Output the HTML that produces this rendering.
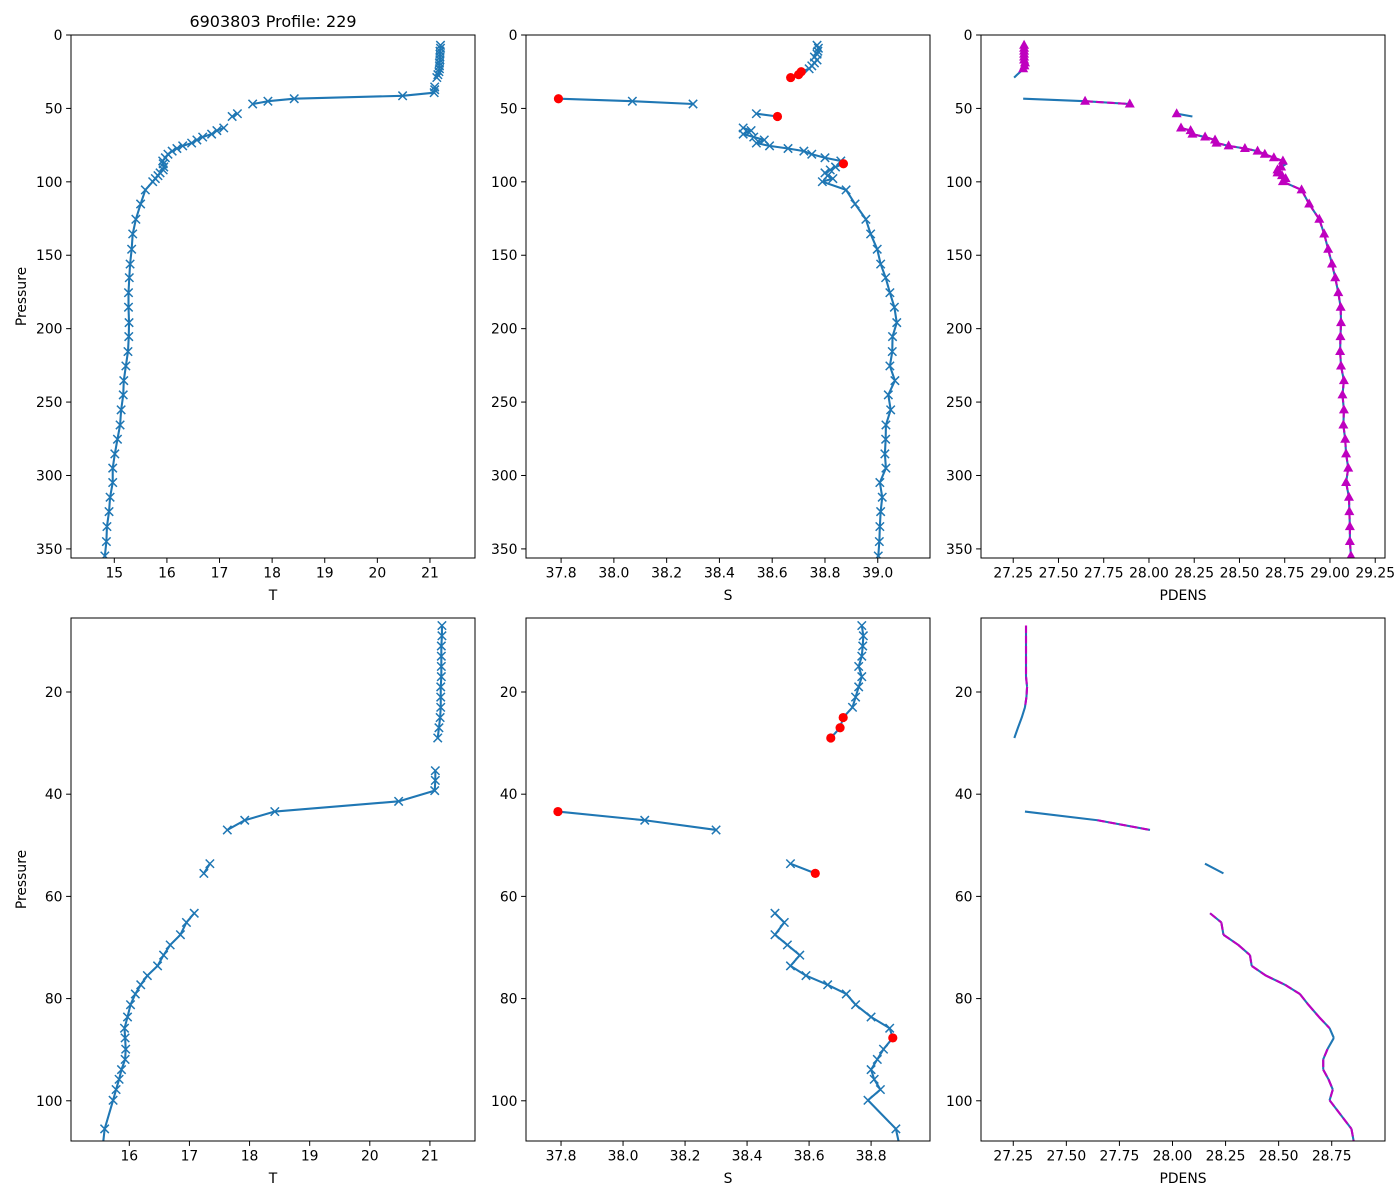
<!DOCTYPE html>
<html><head><meta charset="utf-8"><style>
html,body{margin:0;padding:0;background:#fff;width:1400px;height:1200px;overflow:hidden;}
svg{display:block;font-family:"DejaVu Sans","Liberation Sans",sans-serif;overflow:hidden;}
</style></head><body>
<svg id="fig" width="1400" height="1200" viewBox="0 0 1400 1200" xmlns="http://www.w3.org/2000/svg">
<rect x="0" y="0" width="1400" height="1200" fill="#fff"/>
<text x="273" y="27" font-size="16" text-anchor="middle">6903803 Profile: 229</text>
</svg>
<script>
// ---- data (null = gap) ----
const pressure = [7,9,11,13,15,17,19,21,23,25,27,29,null,35.4,37.3,39.3,41.4,43.4,45.1,47.0,null,53.6,55.5,null,63.3,65.1,67.5,69.5,71.5,73.6,75.5,77.3,79.1,81.2,83.6,85.8,87.7,89.9,91.9,93.9,95.8,97.8,99.9,105.5,115.1,125.5,135.5,145.9,156,165.3,175.5,185.4,195.9,205.4,215.6,225.4,235.4,245.1,255.3,265.6,275.3,285.3,295,304.8,314.8,324.6,334.8,345,354.8];
const temperature = [21.20,21.20,21.19,21.19,21.19,21.19,21.18,21.18,21.18,21.17,21.15,21.13,null,21.09,21.09,21.08,20.48,18.42,17.92,17.63,null,17.34,17.24,null,17.08,16.95,16.85,16.68,16.57,16.47,16.30,16.19,16.10,16.02,15.97,15.92,15.93,15.94,15.93,15.87,15.83,15.78,15.73,15.59,15.50,15.41,15.35,15.33,15.30,15.285,15.27,15.27,15.28,15.275,15.26,15.22,15.18,15.17,15.13,15.11,15.06,15.01,14.97,14.97,14.92,14.90,14.86,14.85,14.82];
const salinity = [38.77,38.775,38.773,38.77,38.76,38.77,38.76,38.75,38.74,38.71,38.70,38.67,null,null,null,null,null,37.79,38.07,38.30,null,38.54,38.62,null,38.49,38.52,38.49,38.53,38.57,38.54,38.59,38.66,38.72,38.75,38.80,38.86,38.87,38.84,38.82,38.80,38.81,38.83,38.79,38.88,38.914,38.955,38.973,38.998,39.011,39.030,39.046,39.063,39.072,39.056,39.055,39.046,39.065,39.040,39.049,39.031,39.030,39.027,39.031,39.008,39.017,39.011,39.008,39.006,39.002];
const pdens = [27.31,27.31,27.31,27.31,27.31,27.31,27.315,27.312,27.305,27.29,27.272,27.255,null,null,null,null,null,27.305,27.647,27.894,null,28.153,28.24,null,28.177,28.23,28.24,28.31,28.365,28.373,28.44,28.53,28.60,28.64,28.69,28.74,28.76,28.73,28.71,28.71,28.735,28.755,28.74,28.843,28.885,28.941,28.968,28.99,29.011,29.029,29.046,29.059,29.061,29.058,29.056,29.061,29.077,29.069,29.077,29.074,29.084,29.089,29.101,29.089,29.105,29.107,29.11,29.11,29.116];
const salinityFlag = [0,0,0,0,0,0,0,0,0,1,1,1,0,0,0,0,0,1,0,0,0,0,1,0,0,0,0,0,0,0,0,0,0,0,0,0,1,0,0,0,0,0,0,0,0,0,0,0,0,0,0,0,0,0,0,0,0,0,0,0,0,0,0,0,0,0,0,0,0];
const topPressureTicks = [0,50,100,150,200,250,300,350];
const bottomPressureTicks = [20,40,60,80,100];
const topTTicks = [15,16,17,18,19,20,21];
const bottomTTicks = [16,17,18,19,20,21];
const topSTicks = [37.8,38.0,38.2,38.4,38.6,38.8,39.0];
const bottomSTicks = [37.8,38.0,38.2,38.4,38.6,38.8];
const topDTicks = [27.25,27.5,27.75,28.0,28.25,28.5,28.75,29.0,29.25];
const bottomDTicks = [27.25,27.5,27.75,28.0,28.25,28.5,28.75];

const NS = "http://www.w3.org/2000/svg";
const svg = document.getElementById('fig');
const BLUE = '#1f77b4', MAG = '#bf00bf', RED = '#ff0000';
function mk(tag, attrs, parent) {
  const e = document.createElementNS(NS, tag);
  for (const k in attrs) e.setAttribute(k, attrs[k]);
  (parent || svg).appendChild(e);
  return e;
}
const panels = [
  {id:'t-top', x0:71,x1:475,y0:35,y1:558,xlim:[14.177,21.856],ylim:[0,356.2],xt:topTTicks,yt:topPressureTicks,xl:'T',var:'T',ylab:true,dec:0},
  {id:'s-top', x0:526,x1:930,y0:35,y1:558,xlim:[37.667,39.198],ylim:[0,356.2],xt:topSTicks,yt:topPressureTicks,xl:'S',var:'S',ylab:false,dec:1},
  {id:'pdens-top', x0:981,x1:1385,y0:35,y1:558,xlim:[27.072,29.304],ylim:[0,356.2],xt:topDTicks,yt:topPressureTicks,xl:'PDENS',var:'D',ylab:false,dec:2,tri:true},
  {id:'t-bottom', x0:71,x1:475,y0:618,y1:1141,xlim:[15.03,21.75],ylim:[5.52,107.87],xt:bottomTTicks,yt:bottomPressureTicks,xl:'T',var:'T',ylab:true,dec:0},
  {id:'s-bottom', x0:526,x1:930,y0:618,y1:1141,xlim:[37.687,38.990],ylim:[5.52,107.87],xt:bottomSTicks,yt:bottomPressureTicks,xl:'S',var:'S',ylab:false,dec:1},
  {id:'pdens-bottom', x0:981,x1:1385,y0:618,y1:1141,xlim:[27.098,29.001],ylim:[5.52,107.87],xt:bottomDTicks,yt:bottomPressureTicks,xl:'PDENS',var:'D',ylab:false,dec:2,tri:false}
];
// clip each segment to the pressure range so nothing extends outside the panel
function pathFrom(xs, ys, fx, fy, include, lo, hi) {
  let d = '';
  let prev = -1;
  for (let i = 0; i < ys.length; i++) {
    const ok = xs[i] !== null && ys[i] !== null && include(i);
    if (!ok) { prev = -1; continue; }
    if (prev >= 0) {
      let xa = xs[prev], ya = ys[prev], xb = xs[i], yb = ys[i];
      if (!((ya < lo && yb < lo) || (ya > hi && yb > hi))) {
        const cut = (yt) => xa + (xb - xa) * (yt - ya) / (yb - ya);
        let x1 = xa, y1 = ya, x2 = xb, y2 = yb;
        if (y1 < lo) { x1 = cut(lo); y1 = lo; } if (y1 > hi) { x1 = cut(hi); y1 = hi; }
        if (y2 < lo) { x2 = cut(lo); y2 = lo; } if (y2 > hi) { x2 = cut(hi); y2 = hi; }
        d += 'M' + fx(x1).toFixed(2) + ' ' + fy(y1).toFixed(2) + 'L' + fx(x2).toFixed(2) + ' ' + fy(y2).toFixed(2);
      }
    }
    prev = i;
  }
  return d;
}
panels.forEach((P, pi) => {
  const g = mk('g', {});
  
  
  const lo = P.ylim[0], hi = P.ylim[1];
  const fx = v => P.x0 + (v - P.xlim[0]) / (P.xlim[1] - P.xlim[0]) * (P.x1 - P.x0);
  const fy = v => P.y0 + (v - P.ylim[0]) / (P.ylim[1] - P.ylim[0]) * (P.y1 - P.y0);
  const inRange = i => pressure[i] !== null && pressure[i] >= lo - 0.5 && pressure[i] <= hi + 0.5;
  const cp = mk('clipPath', {id:'clip' + pi}, g);
  mk('rect', {x:P.x0, y:P.y0, width:P.x1-P.x0, height:P.y1-P.y0}, cp);
  const plot = mk('g', {'clip-path':'url(#clip' + pi + ')'}, g);
  
  
  const vals = P.var === 'T' ? temperature : P.var === 'S' ? salinity : pdens;
  const line = mk('path', {d:pathFrom(vals, pressure, fx, fy, () => true, lo, hi), fill:'none', stroke:BLUE, 'stroke-width':2.08, 'stroke-linejoin':'round', 'stroke-linecap':'butt'}, plot);
  
  
  if (P.var !== 'D') {
    for (let i = 0; i < pressure.length; i++) {
      if (vals[i] === null || !inRange(i)) continue;
      const cx = fx(vals[i]), cy = fy(pressure[i]);
      if (P.var === 'S' && salinityFlag[i] === 1) continue;
      const m = mk('path', {d:`M${cx-4.2} ${cy-4.2}L${cx+4.2} ${cy+4.2}M${cx-4.2} ${cy+4.2}L${cx+4.2} ${cy-4.2}`, stroke:BLUE, 'stroke-width':1.5, fill:'none'}, plot);
      
      
    }
    if (P.var === 'S') {
      for (let i = 0; i < pressure.length; i++) {
        if (salinityFlag[i] !== 1 || vals[i] === null || !inRange(i)) continue;
        const c = mk('circle', {cx:fx(vals[i]), cy:fy(pressure[i]), r:4.6, fill:RED}, plot);
        
        
      }
    }
  } else {
    const good = i => salinityFlag[i] === 0;
    const ml = mk('path', {d:pathFrom(vals, pressure, fx, fy, good, lo, hi), fill:'none', stroke:MAG, 'stroke-width':2.08, 'stroke-dasharray':'7.7 3.3'}, plot);
    
    
    if (P.tri) {
      for (let i = 0; i < pressure.length; i++) {
        if (vals[i] === null || !inRange(i) || !good(i)) continue;
        const cx = fx(vals[i]), cy = fy(pressure[i]);
        const t = mk('path', {d:`M${cx} ${cy-5.5}L${cx+5} ${cy+3.5}L${cx-5} ${cy+3.5}Z`, fill:MAG}, plot);
        
        
      }
    }
  }
  const fr = mk('rect', {x:P.x0, y:P.y0, width:P.x1-P.x0, height:P.y1-P.y0, fill:'none', stroke:'#000', 'stroke-width':1}, g);
  
  
  P.xt.forEach(v => {
    const x = fx(v);
    mk('line', {x1:x, x2:x, y1:P.y1, y2:P.y1+4.9, stroke:'#000', 'stroke-width':1}, g);
    const t = mk('text', {x:x, y:P.y1+19.5, 'font-size':13.9, 'text-anchor':'middle'}, g);
    t.textContent = v.toFixed(P.dec);
    
    
  });
  P.yt.forEach(v => {
    const y = fy(v);
    mk('line', {x1:P.x0-4.9, x2:P.x0, y1:y, y2:y, stroke:'#000', 'stroke-width':1}, g);
    const t = mk('text', {x:P.x0-8.5, y:y+5, 'font-size':13.9, 'text-anchor':'end'}, g);
    t.textContent = String(v);
    
    
  });
  const xl = mk('text', {x:(P.x0+P.x1)/2, y:P.y1+42, 'font-size':13.9, 'text-anchor':'middle'}, g);
  xl.textContent = P.xl;
  
  
  if (P.ylab) {
    const cy = (P.y0+P.y1)/2;
    const yl = mk('text', {x:26, y:cy, 'font-size':13.9, 'text-anchor':'middle', transform:`rotate(-90 26 ${cy})`}, g);
    yl.textContent = 'Pressure';
    
    
  }
});
</script>
</body></html>
